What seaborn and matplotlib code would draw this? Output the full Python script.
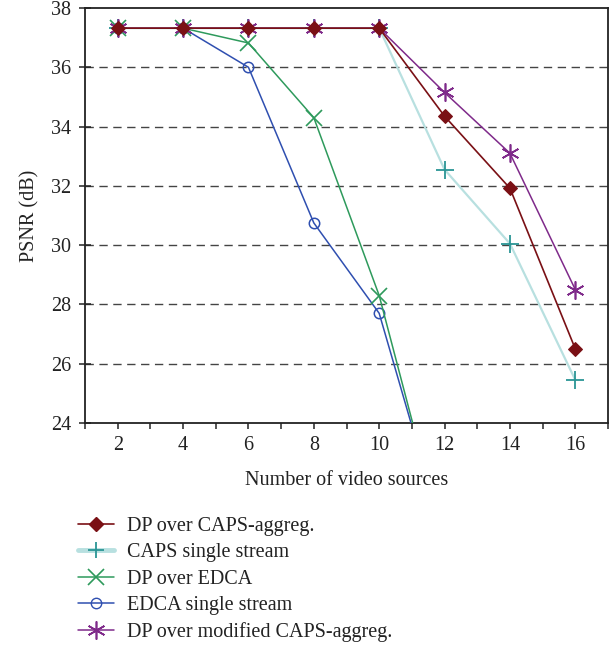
import numpy as np
import pandas as pd
import matplotlib
matplotlib.use('Agg')
import matplotlib.pyplot as plt
import seaborn as sns
from matplotlib.lines import Line2D

# data
sources = [2, 4, 6, 8, 10, 12, 14, 16]
dp_caps_aggreg = [37.32, 37.32, 37.32, 37.32, 37.32, 34.35, 31.92, 26.5]
caps_single = [37.32, 37.32, 37.32, 37.32, 37.32, 32.55, 30.05, 25.45]
dp_edca = [37.32, 37.32, 36.82, 34.3, 28.3, 19.9]
edca_single = [37.32, 37.32, 36.0, 30.75, 27.7, 20.1]
dp_mod_caps = [37.32, 37.32, 37.32, 37.32, 37.32, 35.15, 33.1, 28.5]

labels = ['DP over CAPS-aggreg.', 'CAPS single stream', 'DP over EDCA',
          'EDCA single stream', 'DP over modified CAPS-aggreg.']

sns.set_style('ticks')
plt.rcParams['font.family'] = ['Liberation Serif', 'DejaVu Serif']
plt.rcParams['font.size'] = 14

fig = plt.figure(figsize=(6.15, 6.46), dpi=100)
ax = fig.add_axes([85 / 615, 1 - 423 / 646, 523 / 615, 415 / 646])

# dashed grid lines
for yv in [26, 28, 30, 32, 34, 36]:
    ax.axhline(yv, color='#444444', lw=1.0, ls=(0, (6, 4)), zorder=0)

sns.lineplot(x=sources[:len(edca_single)], y=edca_single, ax=ax, color='#2f4fb0', lw=1.1,
             marker='o', markersize=7.5, markerfacecolor='none', markeredgecolor='#2f4fb0',
             markeredgewidth=1.1, zorder=3)
sns.lineplot(x=sources[:len(dp_edca)], y=dp_edca, ax=ax, color='#2e9a5c', lw=1.1,
             marker='x', markersize=11, markeredgecolor='#2e9a5c', markeredgewidth=1.2, zorder=3)
sns.lineplot(x=sources, y=caps_single, ax=ax, color='#b8e0e0', lw=1.6, zorder=3)
sns.lineplot(x=sources, y=caps_single, ax=ax, color='#2a9595', lw=0, marker='+',
             markersize=13, markeredgewidth=1.3, markeredgecolor='#2a9595', zorder=4)
sns.lineplot(x=sources, y=dp_mod_caps, ax=ax, color='#7f2a8a', lw=1.1, marker=(6, 2, 0),
             markersize=13, markeredgewidth=1.2, markeredgecolor='#7f2a8a', zorder=4)
sns.lineplot(x=sources, y=dp_caps_aggreg, ax=ax, color='#7a1015', lw=1.2, marker='D',
             markersize=7, markeredgecolor='#7a1015', markerfacecolor='#7a1015', zorder=5)

ax.set_xlim(1, 17)
ax.set_ylim(24, 38)
ax.set_xticks(range(2, 17, 2))
ax.set_xticks(range(1, 18, 2), minor=True)
ax.set_yticks(range(24, 39, 2))
ax.tick_params(axis='x', which='both', direction='out', length=4, width=1.1, top=False, pad=5)
ax.tick_params(axis='y', direction='inout', length=8, width=1.1, right=False, pad=6)
ax.tick_params(labelsize=14.5, colors='#222222')
for s in ax.spines.values():
    s.set_linewidth(1.3)
    s.set_color('#222222')

ax.set_xlabel('Number of video sources', fontsize=14.5, color='#222222', labelpad=12)
ax.set_ylabel('PSNR (dB)', fontsize=14.5, color='#222222', labelpad=8)

# legend handles
handles = [
    Line2D([], [], color='#7a1015', lw=1.2, marker='D', markersize=7),
    Line2D([], [], color='#b8e0e0', lw=3.5, marker='+', markersize=12,
           markeredgecolor='#2a9595', markeredgewidth=1.3),
    Line2D([], [], color='#2e9a5c', lw=1.1, marker='x', markersize=11, markeredgewidth=1.2),
    Line2D([], [], color='#2f4fb0', lw=1.1, marker='o', markersize=7.5, markerfacecolor='none'),
    Line2D([], [], color='#7f2a8a', lw=1.1, marker=(6, 2, 0), markersize=13, markeredgewidth=1.2),
]
fig.legend(handles, labels, loc='upper left', bbox_to_anchor=(78 / 615, 1 - 517 / 646),
           frameon=False, fontsize=14.5, handlelength=1.8, handletextpad=0.65,
           labelspacing=0.36, borderpad=0, borderaxespad=0, labelcolor='#222222')

fig.savefig('out.png', dpi=100)
